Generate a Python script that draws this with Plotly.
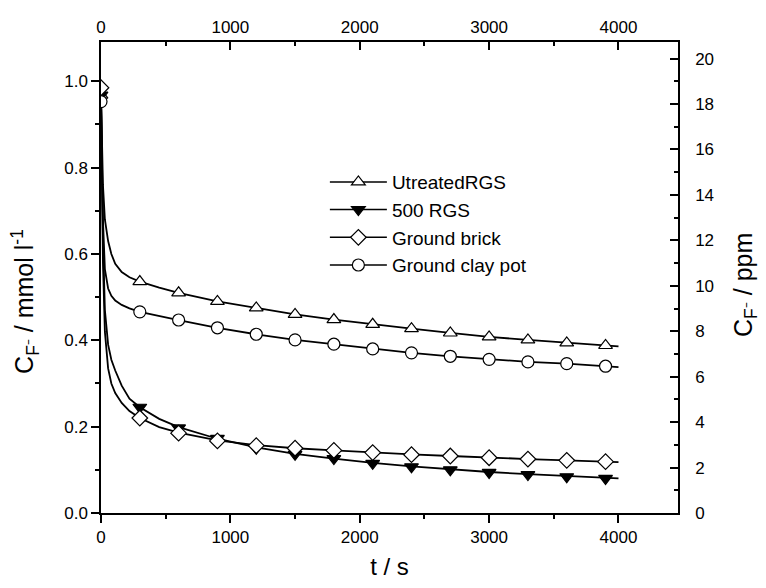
import plotly.graph_objects as go

# ---- data ----
t_markers = [0, 300, 600, 900, 1200, 1500, 1800, 2100, 2400, 2700, 3000, 3300, 3600, 3900]

untreated_markers = [0.968, 0.536, 0.510, 0.490, 0.475, 0.460, 0.448, 0.437, 0.427, 0.417, 0.408, 0.401, 0.394, 0.388]
rgs500_markers = [0.968, 0.245, 0.197, 0.173, 0.150, 0.136, 0.126, 0.115, 0.107, 0.100, 0.094, 0.089, 0.084, 0.080]
brick_markers = [0.985, 0.220, 0.185, 0.167, 0.156, 0.150, 0.145, 0.140, 0.135, 0.132, 0.128, 0.125, 0.122, 0.119]
claypot_markers = [0.953, 0.466, 0.447, 0.429, 0.414, 0.401, 0.391, 0.380, 0.371, 0.363, 0.356, 0.350, 0.346, 0.340]

# fitted curves
t_curve = [0, 5, 15, 30, 55, 80, 110, 160, 220, 300, 450, 600, 900, 1200, 1500, 1800,
           2100, 2400, 2700, 3000, 3300, 3600, 3900, 4000]
untreated_curve = [0.968, 0.88, 0.76, 0.68, 0.63, 0.60, 0.577, 0.558, 0.546, 0.536, 0.522, 0.510,
                   0.490, 0.475, 0.460, 0.448, 0.437, 0.427, 0.417, 0.408, 0.401, 0.394, 0.388, 0.386]
rgs500_curve = [0.968, 0.85, 0.64, 0.47, 0.39, 0.355, 0.33, 0.295, 0.265, 0.245, 0.218, 0.199,
                0.172, 0.152, 0.137, 0.126, 0.116, 0.108, 0.101, 0.095, 0.090, 0.085, 0.081, 0.080]
brick_curve = [0.985, 0.82, 0.58, 0.42, 0.335, 0.30, 0.278, 0.255, 0.236, 0.220, 0.199, 0.186,
               0.168, 0.157, 0.150, 0.145, 0.140, 0.136, 0.132, 0.128, 0.125, 0.122, 0.119, 0.118]
claypot_curve = [0.953, 0.85, 0.68, 0.565, 0.52, 0.503, 0.492, 0.482, 0.474, 0.466, 0.456, 0.447,
                 0.429, 0.414, 0.401, 0.391, 0.380, 0.371, 0.363, 0.356, 0.350, 0.346, 0.340, 0.338]

names = ["UtreatedRGS", "500 RGS", "Ground brick", "Ground clay pot"]
symbols = ["triangle-up-open", "triangle-down", "diamond-open", "circle-open"]

x_top_ticks = [0, 1000, 2000, 3000, 4000]
ppm_ticks = [0, 2, 4, 6, 8, 10, 12, 14, 16, 18, 20]

curves = [untreated_curve, rgs500_curve, brick_curve, claypot_curve]
markers = [untreated_markers, rgs500_markers, brick_markers, claypot_markers]

FONT = "Liberation Sans, Arial, sans-serif"
fig = go.Figure()

for c in curves:
    fig.add_trace(go.Scatter(x=t_curve, y=c, mode="lines", line=dict(color="black", width=1.8),
                             showlegend=False, hoverinfo="skip"))

for m, sym in zip(markers, symbols):
    filled = not sym.endswith("open")
    fig.add_trace(go.Scatter(
        x=t_markers, y=m, mode="markers", showlegend=False,
        marker=dict(symbol=sym.replace("-open", ""), size=12,
                    color="black" if filled else "white",
                    line=dict(color="black", width=1.2))))

for name, sym in zip(names, symbols):
    filled = not sym.endswith("open")
    fig.add_trace(go.Scatter(
        x=[None], y=[None], mode="lines+markers", name=name,
        line=dict(color="black", width=1.5),
        marker=dict(symbol=sym.replace("-open", ""), size=12,
                    color="black" if filled else "white",
                    line=dict(color="black", width=1.2))))

# dummy trace to carry the secondary axes
fig.add_trace(go.Scatter(x=[None], y=[None], xaxis="x2", yaxis="y2", showlegend=False))

y_top = 1.091
x_rng = [0, 4460]

fig.update_layout(
    width=766, height=588,
    margin=dict(l=101, r=88, t=42, b=75),
    paper_bgcolor="white", plot_bgcolor="white",
    font=dict(family=FONT, size=17, color="black"),
    showlegend=True,
    legend=dict(x=0.388, y=0.743, xanchor="left", yanchor="top",
                bgcolor="rgba(0,0,0,0)", font=dict(size=19),
                itemwidth=57, tracegroupgap=0),
    xaxis=dict(range=x_rng, showline=True, linecolor="black", linewidth=1.5,
               ticks="outside", ticklen=8, tickwidth=1.5, tickcolor="black",
               tickvals=x_top_ticks, showgrid=False, zeroline=False,
               minor=dict(dtick=500, tick0=0, ticks="outside", ticklen=4, tickwidth=1.5, tickcolor="black"),
               title=dict(text="t / s", font=dict(size=24), standoff=12)),
    yaxis=dict(range=[0, y_top], showline=True, linecolor="black", linewidth=1.5,
               ticks="outside", ticklen=8, tickwidth=1.5, tickcolor="black",
               dtick=0.2, tick0=0, tickformat=".1f", showgrid=False, zeroline=False,
               minor=dict(dtick=0.1, tick0=0, ticks="outside", ticklen=4, tickwidth=1.5, tickcolor="black")),
    xaxis2=dict(range=x_rng, overlaying="x", side="top", anchor="y", showline=True,
                linecolor="black", linewidth=1.5, ticks="inside", ticklen=8, tickwidth=1.5,
                tickcolor="black", tickvals=x_top_ticks, showgrid=False, zeroline=False,
                minor=dict(dtick=500, tick0=0, ticks="inside", ticklen=4, tickwidth=1.5, tickcolor="black")),
    yaxis2=dict(range=[0, y_top * 19], overlaying="y", side="right", anchor="x", showline=True,
                linecolor="black", linewidth=1.5, ticks="inside", ticklen=8, tickwidth=1.5,
                tickcolor="black", tickvals=ppm_ticks, showgrid=False, zeroline=False,
                ticklabelstandoff=12,
                minor=dict(dtick=1, tick0=0, ticks="inside", ticklen=4, tickwidth=1.5, tickcolor="black")),
)

fig.add_annotation(text="C<sub>F⁻</sub> / mmol l<sup>-1</sup>", textangle=-90,
                   xref="paper", yref="paper", x=-0.132, y=0.45,
                   xanchor="center", yanchor="middle", showarrow=False, font=dict(size=25))
fig.add_annotation(text="C<sub>F⁻</sub> / ppm", textangle=-90,
                   xref="paper", yref="paper", x=1.116, y=0.484,
                   xanchor="center", yanchor="middle", showarrow=False, font=dict(size=25))

fig.write_html("out.html")
